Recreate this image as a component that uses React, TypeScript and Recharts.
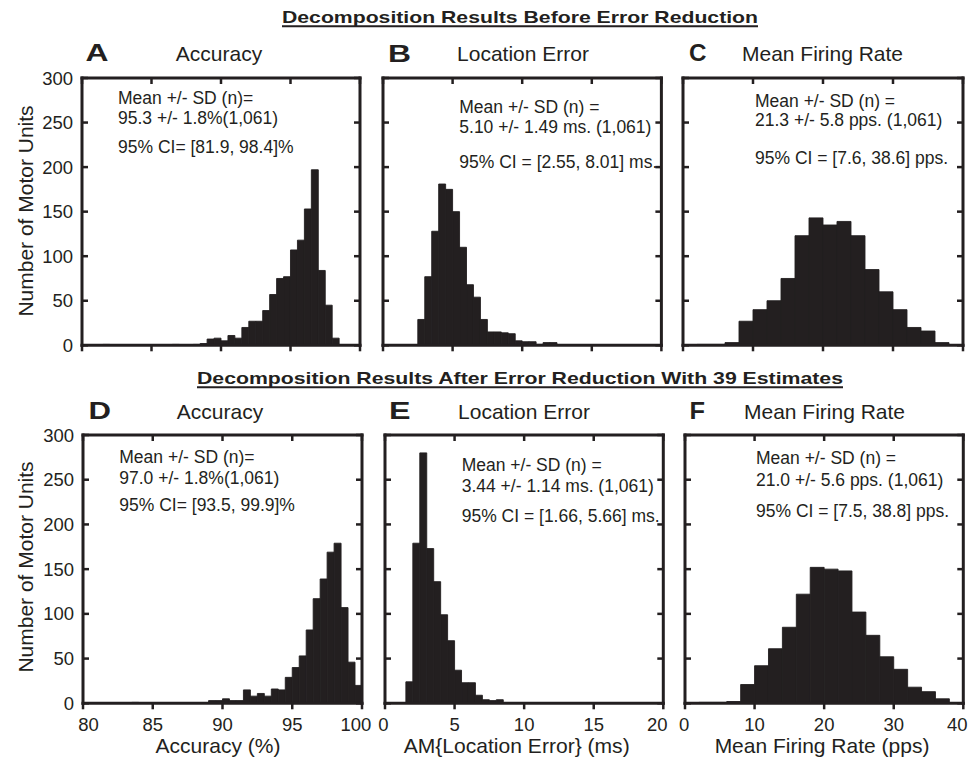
import { Bar, BarChart, XAxis, YAxis } from "recharts";

const INK = "#231f20";
const FONT = '"Liberation Sans", Arial, Helvetica, sans-serif';

// counts per bin (number of motor units)
const countTicks = [0, 50, 100, 150, 200, 250, 300];

const accuracyTicks = [80, 85, 90, 95, 100];
const accuracyBinStart = 80;
const accuracyBinWidth = 0.5;
const accuracyBefore = [
  0, 0, 0, 1, 0, 0, 0, 0, 0, 0,
  0, 0, 0, 1, 0, 0, 1, 2, 7, 8,
  5, 11, 8, 20, 27, 27, 39, 57, 75, 77,
  107, 118, 153, 197, 84, 45, 8, 0, 0, 0,
];
const accuracyAfter = [
  0, 0, 0, 0, 0, 0, 0, 1, 0, 0,
  0, 0, 0, 0, 0, 0, 0, 0, 3, 3,
  5, 3, 3, 15, 8, 11, 8, 16, 15, 29,
  40, 53, 82, 117, 139, 169, 179, 107, 46, 20,
];

const locationTicks = [0, 5, 10, 15, 20];
const locationBinStart = 0;
const locationBinWidth = 0.5;
const locationBefore = [
  0, 0, 0, 0, 0, 29, 77, 128, 181, 175,
  150, 110, 68, 54, 29, 15, 15, 14, 13, 5,
  4, 4, 1, 3, 3, 0, 0, 0, 0, 0,
  0, 0, 0, 0, 0, 0, 0, 0, 0, 0,
];
const locationAfter = [
  0, 0, 0, 24, 179, 280, 173, 136, 99, 70,
  37, 23, 23, 9, 4, 3, 4, 0, 0, 0,
  0, 0, 0, 0, 0, 0, 0, 0, 0, 0,
  0, 0, 0, 0, 0, 0, 0, 0, 0, 0,
];

const rateTicks = [0, 10, 20, 30, 40];
const rateBinStart = 0;
const rateBinWidth = 2;
const rateBefore = [0, 1, 1, 3, 27, 40, 50, 75, 123, 143, 135, 139, 123, 85, 60, 40, 20, 16, 3, 0];
const rateAfter = [0, 1, 1, 2, 21, 42, 61, 85, 122, 152, 150, 148, 102, 76, 52, 38, 18, 13, 5, 0];

const statsA = ["Mean +/- SD (n)=", "95.3 +/- 1.8%(1,061)", "95% CI= [81.9, 98.4]%"];
const statsB = ["Mean +/- SD (n) =", "5.10 +/- 1.49 ms. (1,061)", "95% CI = [2.55, 8.01] ms."];
const statsC = ["Mean +/- SD (n) =", "21.3 +/- 5.8 pps. (1,061)", "95% CI = [7.6, 38.6] pps."];
const statsD = ["Mean +/- SD (n)=", "97.0 +/- 1.8%(1,061)", "95% CI= [93.5, 99.9]%"];
const statsE = ["Mean +/- SD (n) =", "3.44 +/- 1.14 ms. (1,061)", "95% CI = [1.66, 5.66] ms."];
const statsF = ["Mean +/- SD (n) =", "21.0 +/- 5.6 pps. (1,061)", "95% CI = [7.5, 38.8] pps."];

type Box = { x: number; y: number; w: number; h: number };

function BottomTick(props: any) {
  const { x, y, value, show, shift } = props;
  if (!show) return <g />;
  return (
    <text x={x + shift} y={y} dy="0.71em" textAnchor="middle" fontSize={18.5} fill={INK} fontFamily={FONT}>
      {value}
    </text>
  );
}

function Histogram({
  box,
  counts,
  binStart,
  binWidth,
  ticks,
  leftLabels = false,
  bottomLabels = false,
  firstShift = 0,
  lastShift = 0,
}: {
  box: Box;
  counts: number[];
  binStart: number;
  binWidth: number;
  ticks: number[];
  leftLabels?: boolean;
  bottomLabels?: boolean;
  firstShift?: number;
  lastShift?: number;
}) {
  const pad = 10;
  const labelW = leftLabels ? 60 : 0;
  const axisH = 40;
  const rows = counts.map((n, i) => ({ bin: binStart + i * binWidth, n }));
  const domain = [ticks[0], ticks[ticks.length - 1]];
  const bandW = box.w / counts.length;
  const frame = { stroke: INK, strokeWidth: 3, strokeLinecap: "square" as const };
  const tickLine = { stroke: INK, strokeWidth: 2.5 };
  const blank = () => "";

  return (
    <div style={{ position: "absolute", left: box.x - pad - labelW, top: box.y - pad }}>
      <BarChart
        width={box.w + labelW + 2 * pad}
        height={box.h + axisH + 2 * pad}
        data={rows}
        margin={{ top: pad, right: pad, bottom: pad, left: pad }}
        barCategoryGap={0}
        barGap={0}
      >
        <XAxis
          xAxisId="bottom"
          dataKey="bin"
          type="number"
          domain={domain}
          ticks={ticks}
          allowDataOverflow
          interval={0}
          height={axisH}
          axisLine={frame}
          tickLine={tickLine}
          tickSize={6}
          tickMargin={9}
          tick={(p: any) => (
            <BottomTick
              x={p.x}
              y={p.y}
              value={p.payload.value}
              show={bottomLabels}
              shift={
                p.payload.value === ticks[0]
                  ? firstShift
                  : p.payload.value === ticks[ticks.length - 1]
                  ? lastShift
                  : 0
              }
            />
          )}
        />
        <XAxis xAxisId="bins" dataKey="bin" type="category" hide height={0} />
        <XAxis
          xAxisId="top"
          dataKey="bin"
          orientation="top"
          mirror
          type="number"
          domain={domain}
          ticks={ticks}
          allowDataOverflow
          interval={0}
          axisLine={frame}
          tickLine={tickLine}
          tickSize={6}
          tickFormatter={blank}
        />
        <YAxis
          yAxisId="count"
          mirror
          type="number"
          domain={[0, 300]}
          ticks={countTicks}
          allowDataOverflow
          interval={0}
          axisLine={frame}
          tickLine={tickLine}
          tickSize={6}
          tickFormatter={blank}
        />
        {leftLabels && (
          <YAxis
            yAxisId="labels"
            type="number"
            width={labelW}
            domain={[0, 300]}
            ticks={countTicks}
            allowDataOverflow
            interval={0}
            axisLine={false}
            tickLine={false}
            tickSize={6}
            tickMargin={3}
            tick={{ fontSize: 18.5, fill: INK, fontFamily: FONT }}
          />
        )}
        <YAxis
          yAxisId="right"
          orientation="right"
          mirror
          type="number"
          domain={[0, 300]}
          ticks={countTicks}
          allowDataOverflow
          interval={0}
          axisLine={frame}
          tickLine={tickLine}
          tickSize={6}
          tickFormatter={blank}
        />
        <Bar
          xAxisId="bins"
          yAxisId="count"
          dataKey="n"
          fill={INK}
          stroke={INK}
          strokeWidth={0.9}
          barSize={bandW - 0.01}
          isAnimationActive={false}
        />
      </BarChart>
    </div>
  );
}

function Stats({ x, ys, lines }: { x: number; ys: number[]; lines: string[] }) {
  return (
    <>
      {lines.map((t, i) => (
        <text key={i} x={x} y={ys[i]} fontSize={17.5}>
          {t}
        </text>
      ))}
    </>
  );
}

export default function App() {
  const boxA = { x: 81.5, y: 77.7, w: 278, h: 267.3 };
  const boxB = { x: 383.3, y: 77.7, w: 278.4, h: 267.3 };
  const boxC = { x: 682.7, y: 77.7, w: 280, h: 267.3 };
  const boxD = { x: 82.7, y: 435, w: 279, h: 268.3 };
  const boxE = { x: 385, y: 435, w: 278.3, h: 268.3 };
  const boxF = { x: 685, y: 435, w: 278.3, h: 268.3 };

  return (
    <div
      style={{
        position: "absolute",
        left: 0,
        top: 0,
        width: 980,
        height: 762,
        background: "#fff",
        fontFamily: FONT,
        overflow: "hidden",
      }}
    >
      <Histogram box={boxA} counts={accuracyBefore} binStart={accuracyBinStart} binWidth={accuracyBinWidth} ticks={accuracyTicks} leftLabels />
      <Histogram box={boxB} counts={locationBefore} binStart={locationBinStart} binWidth={locationBinWidth} ticks={locationTicks} />
      <Histogram box={boxC} counts={rateBefore} binStart={rateBinStart} binWidth={rateBinWidth} ticks={rateTicks} />
      <Histogram box={boxD} counts={accuracyAfter} binStart={accuracyBinStart} binWidth={accuracyBinWidth} ticks={accuracyTicks} leftLabels bottomLabels firstShift={5.5} lastShift={-6} />
      <Histogram box={boxE} counts={locationAfter} binStart={locationBinStart} binWidth={locationBinWidth} ticks={locationTicks} bottomLabels firstShift={-1.5} lastShift={-6} />
      <Histogram box={boxF} counts={rateAfter} binStart={rateBinStart} binWidth={rateBinWidth} ticks={rateTicks} bottomLabels firstShift={-0.8} lastShift={-6} />

      <svg
        width={980}
        height={762}
        style={{ position: "absolute", left: 0, top: 0, pointerEvents: "none" }}
        fill={INK}
        fontFamily={FONT}
      >
        {/* section headings */}
        <text x={520} y={23.3} textAnchor="middle" fontSize={17} fontWeight="bold" textLength={476} lengthAdjust="spacingAndGlyphs">
          Decomposition Results Before Error Reduction
        </text>
        <line x1={282} x2={758} y1={26.3} y2={26.3} stroke={INK} strokeWidth={2} />
        <text x={520} y={383.5} textAnchor="middle" fontSize={17} fontWeight="bold" textLength={646} lengthAdjust="spacingAndGlyphs">
          Decomposition Results After Error Reduction With 39 Estimates
        </text>
        <line x1={197} x2={843} y1={387.2} y2={387.2} stroke={INK} strokeWidth={2} />

        {/* panel letters */}
        <g fontSize={24} fontWeight="bold">
          <text x={85.5} y={61.3} textLength={23} lengthAdjust="spacingAndGlyphs">A</text>
          <text x={388} y={61.5} textLength={23} lengthAdjust="spacingAndGlyphs">B</text>
          <text x={689} y={61.3} textLength={17.5} lengthAdjust="spacingAndGlyphs">C</text>
          <text x={88.5} y={419} textLength={22.5} lengthAdjust="spacingAndGlyphs">D</text>
          <text x={389} y={419} textLength={21.5} lengthAdjust="spacingAndGlyphs">E</text>
          <text x={689.5} y={419} textLength={15.5} lengthAdjust="spacingAndGlyphs">F</text>
        </g>

        {/* panel titles */}
        <g fontSize={21} textAnchor="middle">
          <text x={219} y={61}>Accuracy</text>
          <text x={523} y={61}>Location Error</text>
          <text x={822.5} y={61}>Mean Firing Rate</text>
          <text x={220} y={418.7}>Accuracy</text>
          <text x={524} y={418.7}>Location Error</text>
          <text x={824.5} y={418.7}>Mean Firing Rate</text>
        </g>

        {/* summary statistics */}
        <Stats x={118} ys={[104, 124, 153]} lines={statsA} />
        <Stats x={459.3} ys={[113.3, 133, 168]} lines={statsB} />
        <Stats x={755} ys={[107.3, 126, 164]} lines={statsC} />
        <Stats x={119.3} ys={[462.7, 484, 511]} lines={statsD} />
        <Stats x={461.7} ys={[471, 492, 522]} lines={statsE} />
        <Stats x={756} ys={[464.3, 486, 517]} lines={statsF} />

        {/* axis titles */}
        <g fontSize={21} textAnchor="middle">
          <text transform="translate(33,211) rotate(-90)">Number of Motor Units</text>
          <text transform="translate(33.3,567) rotate(-90)">Number of Motor Units</text>
          <text x={218} y={753.3}>Accuracy (%)</text>
          <text x={516.7} y={753.3} textLength={226} lengthAdjust="spacingAndGlyphs">
            AM{"{"}Location Error{"}"} (ms)
          </text>
          <text x={822} y={753.3}>Mean Firing Rate (pps)</text>
        </g>
      </svg>
    </div>
  );
}
